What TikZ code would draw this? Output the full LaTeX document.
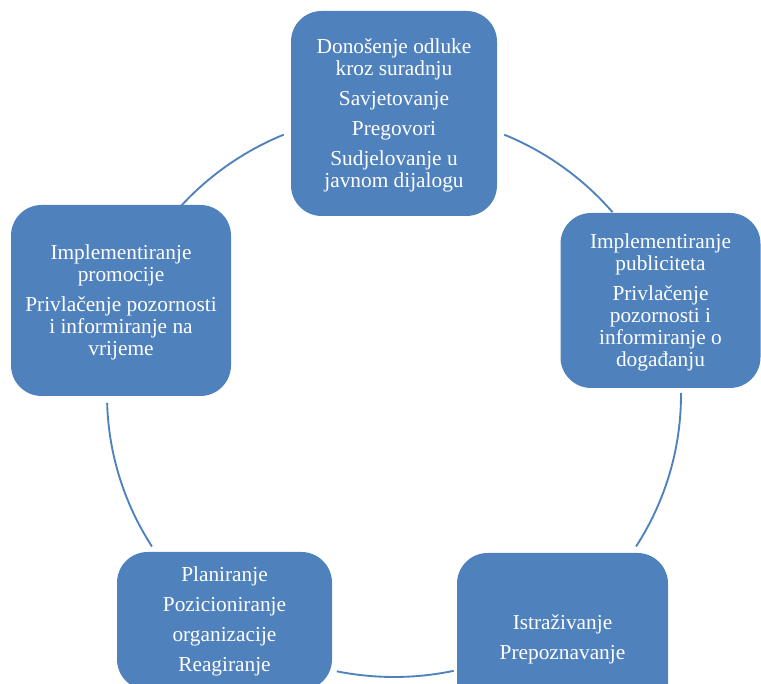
\documentclass[tikz,border=0pt]{standalone}
\usepackage{fontspec}
\setmainfont{Liberation Serif}
\definecolor{boxblue}{RGB}{79,129,189}
\newcommand{\topstrutx}{\rule{0pt}{14pt}}
\begin{document}
\begin{tikzpicture}[x=0.75pt,y=0.75pt,
  stagebox/.style={draw=none, fill=boxblue, rounded corners=23pt, inner sep=0pt,
    text=white, align=center, font=\fontsize{16}{16.5}\selectfont},
  cyclearc/.style={draw=boxblue, line width=1.4pt}]
\useasboundingbox (0,0) rectangle (761,684);
\clip (0,0) rectangle (761,684);
\coordinate (c) at (394,289);
% arcs
\draw[cyclearc] (c) ++(112.6:287 and 282) arc[start angle=112.6, end angle=138.1, x radius=287, y radius=282];
\draw[cyclearc] (c) ++(40.4:287 and 282) arc[start angle=40.4, end angle=67.4, x radius=287, y radius=282];
\draw[cyclearc] (c) ++(181.6:287 and 282) arc[start angle=181.6, end angle=212.5, x radius=287, y radius=282];
\draw[cyclearc] (c) ++(327.5:287 and 282) arc[start angle=327.5, end angle=360.4, x radius=287, y radius=282];
\draw[cyclearc] (c) ++(258.5:287 and 282) arc[start angle=258.5, end angle=282, x radius=287, y radius=282];
% boxes
\node[stagebox, minimum width=154.5pt, minimum height=153.75pt] (top) at (394,570.5)
  {\topstrutx Donošenje odluke\\kroz suradnju\\[6pt]Savjetovanje\\[6pt]Pregovori\\[6pt]Sudjelovanje u\\javnom dijalogu};
\node[stagebox, minimum width=150pt, minimum height=131.25pt] (right) at (660.5,383.5)
  {\topstrutx Implementiranje\\publiciteta\\[6pt]Privlačenje\\pozornosti i\\informiranje o\\događanju};
\node[stagebox, minimum width=165pt, minimum height=143.25pt] (left) at (121,383.5)
  {\topstrutx Implementiranje\\promocije\\[6pt]Privlačenje pozornosti\\i informiranje na\\vrijeme};
\node[stagebox, minimum width=161.25pt, minimum height=103.5pt] (bl) at (224.5,63)
  {Planiranje\\[6pt]Pozicioniranje\\[6pt]organizacije\\[6pt]Reagiranje};
\node[stagebox, minimum width=158.25pt, minimum height=126pt] (br) at (562.5,47)
  {\topstrutx Istraživanje\\[6pt]Prepoznavanje};
\end{tikzpicture}
\end{document}
